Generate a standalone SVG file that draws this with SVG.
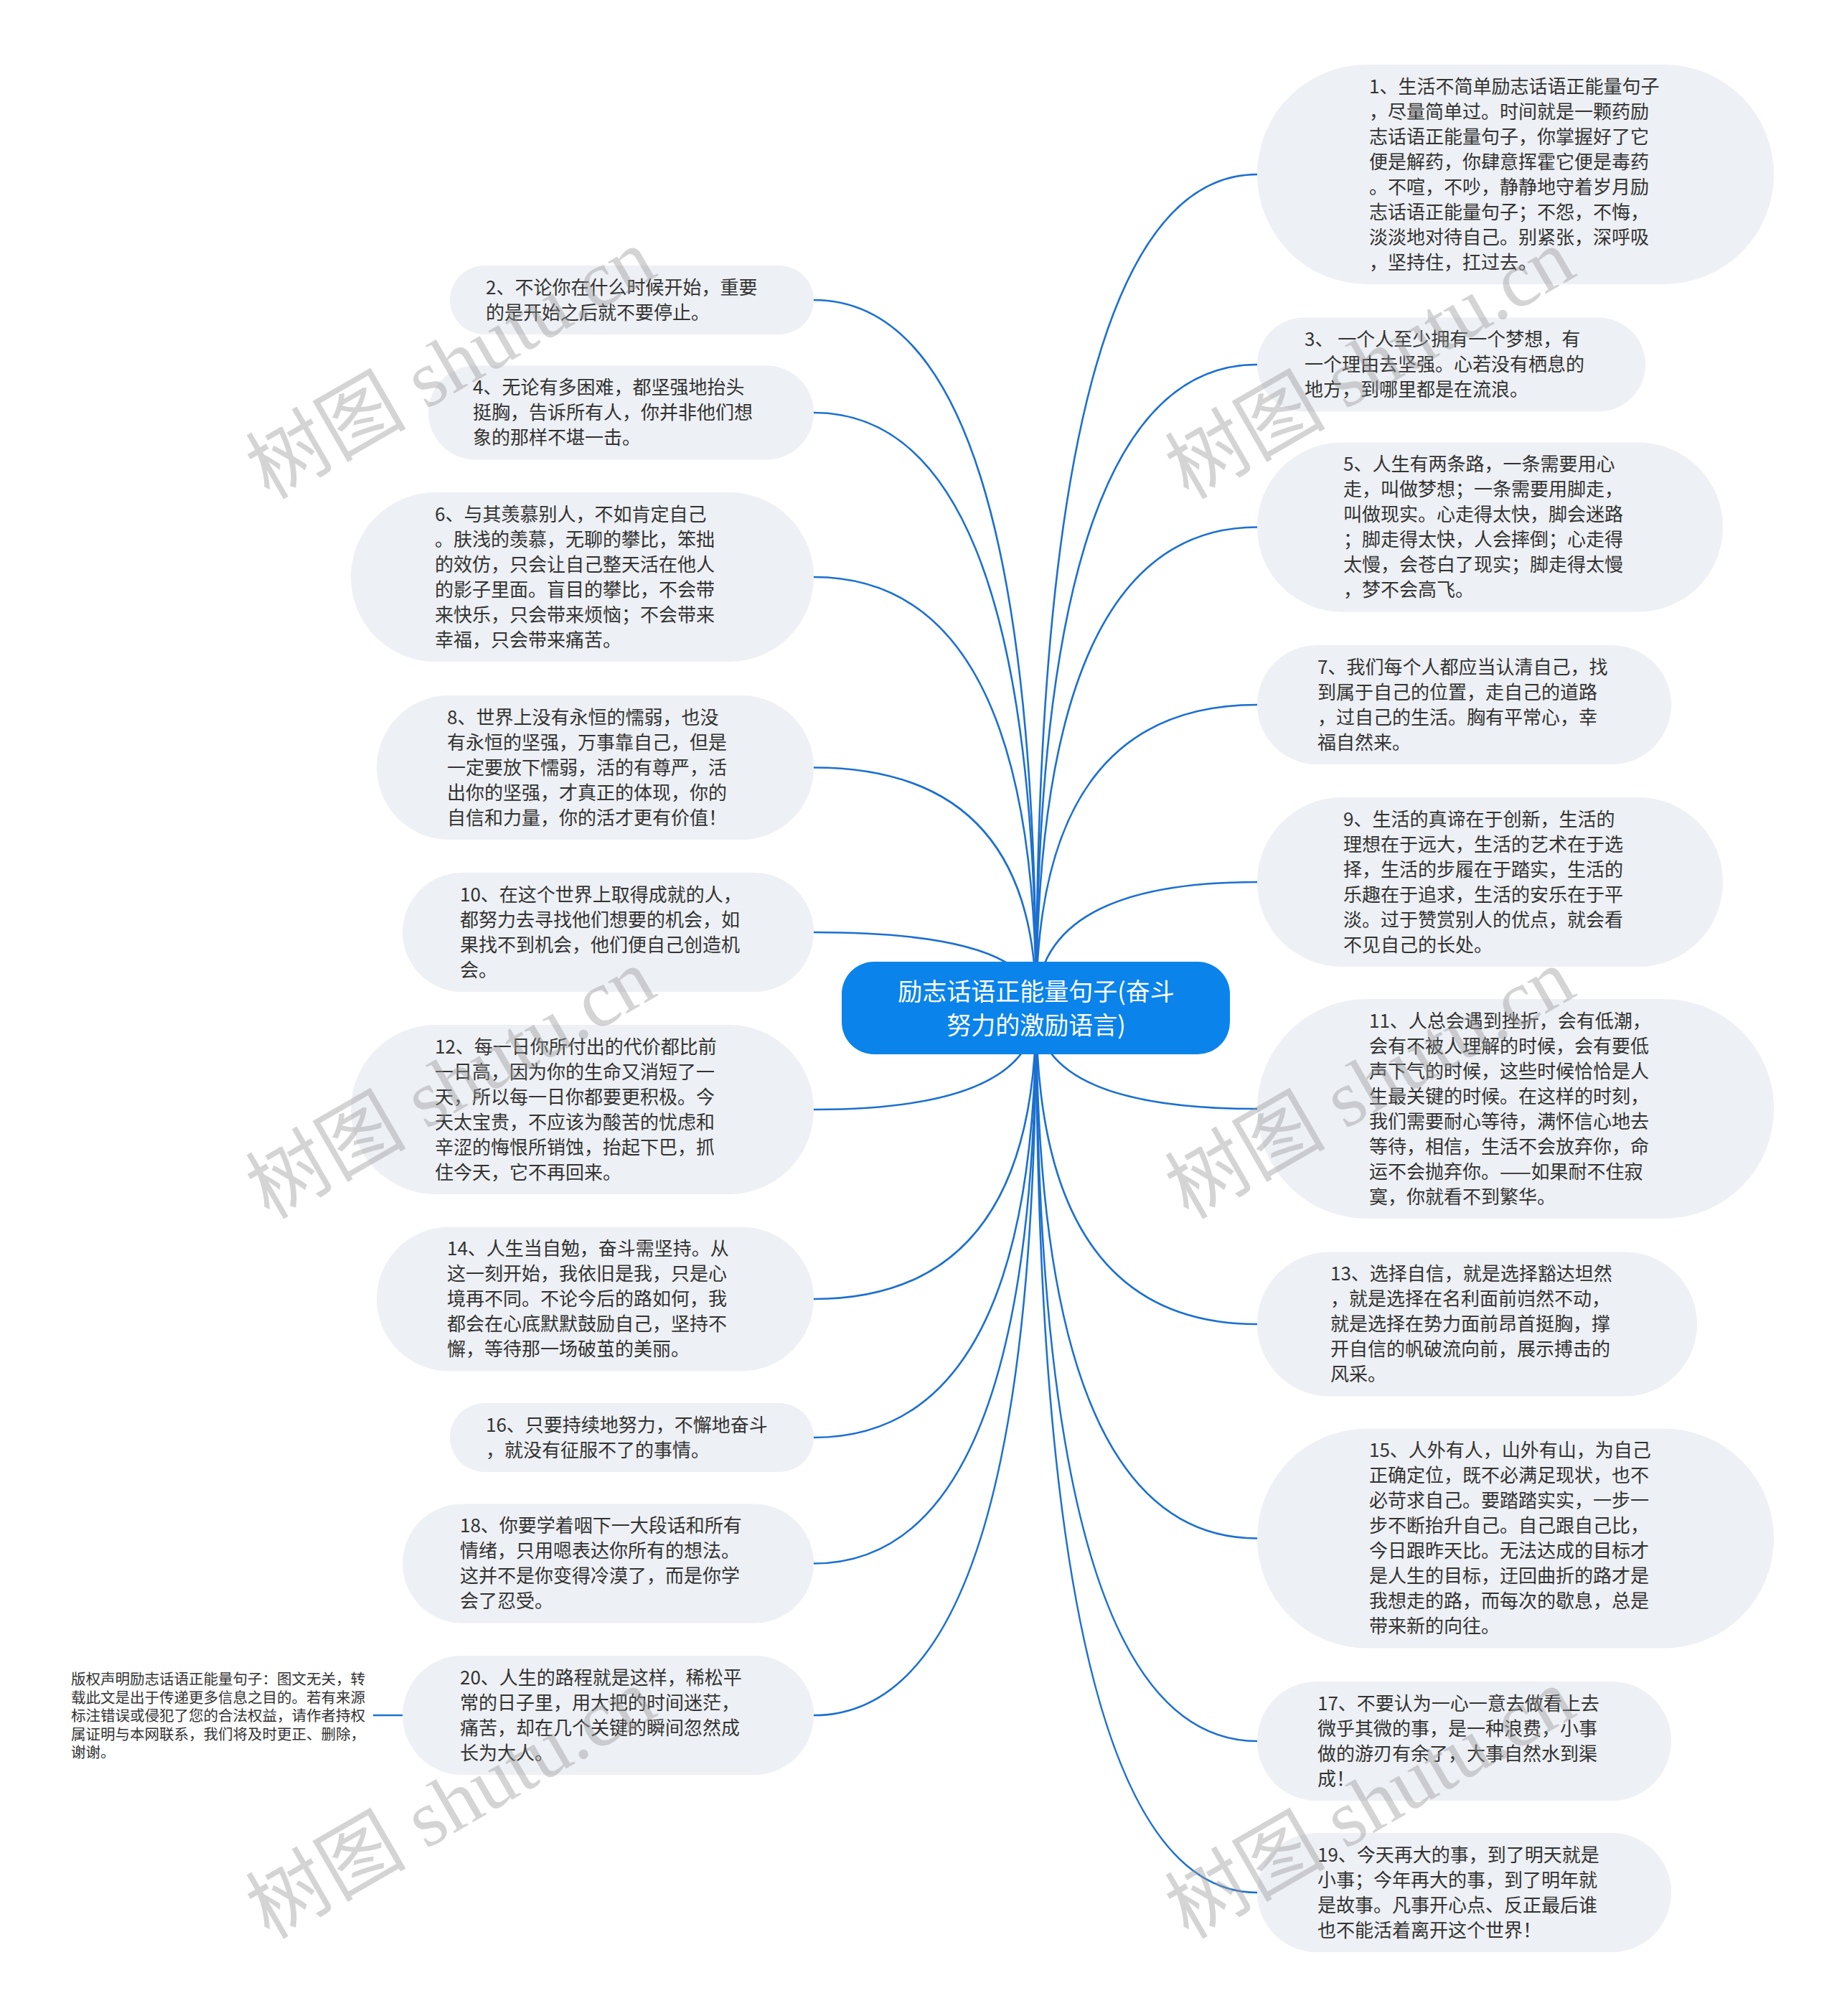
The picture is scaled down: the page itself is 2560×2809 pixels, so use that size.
<svg xmlns="http://www.w3.org/2000/svg" width="2560" height="2809" viewBox="0 0 2560 2809">
<style>
.n{fill:#edf0f4}
.t{font-family:"Noto Sans CJK SC","Noto Sans",sans-serif;font-size:26px;fill:#333333;dominant-baseline:central}
.c{font-family:"Noto Sans CJK SC","Noto Sans",sans-serif;font-size:34px;fill:#ffffff;dominant-baseline:central;text-anchor:middle}
.cp{font-family:"Noto Sans CJK SC","Noto Sans",sans-serif;font-size:20.5px;fill:#333333;dominant-baseline:central}
.e{fill:none;stroke:#1b70d0;stroke-width:2.6}
.wm{font-family:"Liberation Serif","Noto Sans CJK SC",serif;font-size:112px;fill:#9a9a9a;opacity:0.42}
</style>
<rect width="2560" height="2809" fill="#ffffff"/>
<g id="connectors">
<path class="e" d="M1444 1404 Q1444 243 1752 243"/>
<path class="e" d="M1444 1404 Q1444 508 1752 508"/>
<path class="e" d="M1444 1404 Q1444 734.5 1752 734.5"/>
<path class="e" d="M1444 1404 Q1444 982 1752 982"/>
<path class="e" d="M1444 1404 Q1444 1229 1752 1229"/>
<path class="e" d="M1444 1404 Q1444 1545 1752 1545"/>
<path class="e" d="M1444 1404 Q1444 1845 1752 1845"/>
<path class="e" d="M1444 1404 Q1444 2143.5 1752 2143.5"/>
<path class="e" d="M1444 1404 Q1444 2426 1752 2426"/>
<path class="e" d="M1444 1404 Q1444 2637 1752 2637"/>
<path class="e" d="M1444 1404 Q1444 418 1134 418"/>
<path class="e" d="M1444 1404 Q1444 575 1134 575"/>
<path class="e" d="M1444 1404 Q1444 804 1134 804"/>
<path class="e" d="M1444 1404 Q1444 1069.5 1134 1069.5"/>
<path class="e" d="M1444 1404 Q1444 1299 1134 1299"/>
<path class="e" d="M1444 1404 Q1444 1546 1134 1546"/>
<path class="e" d="M1444 1404 Q1444 1810 1134 1810"/>
<path class="e" d="M1444 1404 Q1444 2003 1134 2003"/>
<path class="e" d="M1444 1404 Q1444 2178.5 1134 2178.5"/>
<path class="e" d="M1444 1404 Q1444 2390 1134 2390"/>
<path class="e" d="M520 2390 L561 2390"/>
</g>
<g id="root">
<rect x="1173" y="1340" width="541" height="129" rx="45" fill="#0a83eb"/>
<text class="c" x="1444" y="1379">励志话语正能量句子(奋斗</text>
<text class="c" x="1444" y="1426">努力的激励语言)</text>
</g>
<g id="n1">
<rect class="n" x="1752" y="90" width="720" height="306" rx="153"/>
<text class="t" transform="translate(0,-3)"><tspan x="1908" y="120.5">1、生活不简单励志话语正能量句子</tspan><tspan x="1908" y="155.5">，尽量简单过。时间就是一颗药励</tspan><tspan x="1908" y="190.5">志话语正能量句子，你掌握好了它</tspan><tspan x="1908" y="225.5">便是解药，你肆意挥霍它便是毒药</tspan><tspan x="1908" y="260.5">。不喧，不吵，静静地守着岁月励</tspan><tspan x="1908" y="295.5">志话语正能量句子；不怨，不悔，</tspan><tspan x="1908" y="330.5">淡淡地对待自己。别紧张，深呼吸</tspan><tspan x="1908" y="365.5">，坚持住，扛过去。</tspan></text>
</g>
<g id="n3">
<rect class="n" x="1752" y="442.5" width="541" height="131" rx="65.5"/>
<text class="t" transform="translate(0,-3)"><tspan x="1818" y="473">3、 一个人至少拥有一个梦想，有</tspan><tspan x="1818" y="508">一个理由去坚强。心若没有栖息的</tspan><tspan x="1818" y="543">地方，到哪里都是在流浪。</tspan></text>
</g>
<g id="n5">
<rect class="n" x="1752" y="616.5" width="649" height="236" rx="118"/>
<text class="t" transform="translate(0,-3)"><tspan x="1872" y="647">5、人生有两条路，一条需要用心</tspan><tspan x="1872" y="682">走，叫做梦想；一条需要用脚走，</tspan><tspan x="1872" y="717">叫做现实。心走得太快，脚会迷路</tspan><tspan x="1872" y="752">；脚走得太快，人会摔倒；心走得</tspan><tspan x="1872" y="787">太慢，会苍白了现实；脚走得太慢</tspan><tspan x="1872" y="822">，梦不会高飞。</tspan></text>
</g>
<g id="n7">
<rect class="n" x="1752" y="899" width="577" height="166" rx="83"/>
<text class="t" transform="translate(0,-3)"><tspan x="1836" y="929.5">7、我们每个人都应当认清自己，找</tspan><tspan x="1836" y="964.5">到属于自己的位置，走自己的道路</tspan><tspan x="1836" y="999.5">，过自己的生活。胸有平常心，幸</tspan><tspan x="1836" y="1034.5">福自然来。</tspan></text>
</g>
<g id="n9">
<rect class="n" x="1752" y="1111" width="649" height="236" rx="118"/>
<text class="t" transform="translate(0,-3)"><tspan x="1872" y="1141.5">9、生活的真谛在于创新，生活的</tspan><tspan x="1872" y="1176.5">理想在于远大，生活的艺术在于选</tspan><tspan x="1872" y="1211.5">择，生活的步履在于踏实，生活的</tspan><tspan x="1872" y="1246.5">乐趣在于追求，生活的安乐在于平</tspan><tspan x="1872" y="1281.5">淡。过于赞赏别人的优点，就会看</tspan><tspan x="1872" y="1316.5">不见自己的长处。</tspan></text>
</g>
<g id="n11">
<rect class="n" x="1752" y="1392" width="720" height="306" rx="153"/>
<text class="t" transform="translate(0,-3)"><tspan x="1908" y="1422.5">11、人总会遇到挫折，会有低潮，</tspan><tspan x="1908" y="1457.5">会有不被人理解的时候，会有要低</tspan><tspan x="1908" y="1492.5">声下气的时候，这些时候恰恰是人</tspan><tspan x="1908" y="1527.5">生最关键的时候。在这样的时刻，</tspan><tspan x="1908" y="1562.5">我们需要耐心等待，满怀信心地去</tspan><tspan x="1908" y="1597.5">等待，相信，生活不会放弃你，命</tspan><tspan x="1908" y="1632.5">运不会抛弃你。——如果耐不住寂</tspan><tspan x="1908" y="1667.5">寞，你就看不到繁华。</tspan></text>
</g>
<g id="n13">
<rect class="n" x="1752" y="1744.5" width="613" height="201" rx="100.5"/>
<text class="t" transform="translate(0,-3)"><tspan x="1854" y="1775">13、选择自信，就是选择豁达坦然</tspan><tspan x="1854" y="1810">，就是选择在名利面前岿然不动，</tspan><tspan x="1854" y="1845">就是选择在势力面前昂首挺胸，撑</tspan><tspan x="1854" y="1880">开自信的帆破流向前，展示搏击的</tspan><tspan x="1854" y="1915">风采。</tspan></text>
</g>
<g id="n15">
<rect class="n" x="1752" y="1990.5" width="720" height="306" rx="153"/>
<text class="t" transform="translate(0,-3)"><tspan x="1908" y="2021">15、人外有人，山外有山，为自己</tspan><tspan x="1908" y="2056">正确定位，既不必满足现状，也不</tspan><tspan x="1908" y="2091">必苛求自己。要踏踏实实，一步一</tspan><tspan x="1908" y="2126">步不断抬升自己。自己跟自己比，</tspan><tspan x="1908" y="2161">今日跟昨天比。无法达成的目标才</tspan><tspan x="1908" y="2196">是人生的目标，迂回曲折的路才是</tspan><tspan x="1908" y="2231">我想走的路，而每次的歇息，总是</tspan><tspan x="1908" y="2266">带来新的向往。</tspan></text>
</g>
<g id="n17">
<rect class="n" x="1752" y="2343" width="577" height="166" rx="83"/>
<text class="t" transform="translate(0,-3)"><tspan x="1836" y="2373.5">17、不要认为一心一意去做看上去</tspan><tspan x="1836" y="2408.5">微乎其微的事，是一种浪费，小事</tspan><tspan x="1836" y="2443.5">做的游刃有余了，大事自然水到渠</tspan><tspan x="1836" y="2478.5">成！</tspan></text>
</g>
<g id="n19">
<rect class="n" x="1752" y="2554" width="577" height="166" rx="83"/>
<text class="t" transform="translate(0,-3)"><tspan x="1836" y="2584.5">19、今天再大的事，到了明天就是</tspan><tspan x="1836" y="2619.5">小事；今年再大的事，到了明年就</tspan><tspan x="1836" y="2654.5">是故事。凡事开心点、反正最后谁</tspan><tspan x="1836" y="2689.5">也不能活着离开这个世界！</tspan></text>
</g>
<g id="n2">
<rect class="n" x="627" y="370" width="507" height="96" rx="48"/>
<text class="t" transform="translate(0,-3)"><tspan x="677" y="400.5">2、不论你在什么时候开始，重要</tspan><tspan x="677" y="435.5">的是开始之后就不要停止。</tspan></text>
</g>
<g id="n4">
<rect class="n" x="597" y="509.5" width="537" height="131" rx="65.5"/>
<text class="t" transform="translate(0,-3)"><tspan x="659" y="540">4、无论有多困难，都坚强地抬头</tspan><tspan x="659" y="575">挺胸，告诉所有人，你并非他们想</tspan><tspan x="659" y="610">象的那样不堪一击。</tspan></text>
</g>
<g id="n6">
<rect class="n" x="489" y="686" width="645" height="236" rx="118"/>
<text class="t" transform="translate(0,-3)"><tspan x="606" y="716.5">6、与其羡慕别人，不如肯定自己</tspan><tspan x="606" y="751.5">。肤浅的羡慕，无聊的攀比，笨拙</tspan><tspan x="606" y="786.5">的效仿，只会让自己整天活在他人</tspan><tspan x="606" y="821.5">的影子里面。盲目的攀比，不会带</tspan><tspan x="606" y="856.5">来快乐，只会带来烦恼；不会带来</tspan><tspan x="606" y="891.5">幸福，只会带来痛苦。</tspan></text>
</g>
<g id="n8">
<rect class="n" x="525" y="969" width="609" height="201" rx="100.5"/>
<text class="t" transform="translate(0,-3)"><tspan x="623" y="999.5">8、世界上没有永恒的懦弱，也没</tspan><tspan x="623" y="1034.5">有永恒的坚强，万事靠自己，但是</tspan><tspan x="623" y="1069.5">一定要放下懦弱，活的有尊严，活</tspan><tspan x="623" y="1104.5">出你的坚强，才真正的体现，你的</tspan><tspan x="623" y="1139.5">自信和力量，你的活才更有价值！</tspan></text>
</g>
<g id="n10">
<rect class="n" x="561" y="1216" width="573" height="166" rx="83"/>
<text class="t" transform="translate(0,-3)"><tspan x="641" y="1246.5">10、在这个世界上取得成就的人，</tspan><tspan x="641" y="1281.5">都努力去寻找他们想要的机会，如</tspan><tspan x="641" y="1316.5">果找不到机会，他们便自己创造机</tspan><tspan x="641" y="1351.5">会。</tspan></text>
</g>
<g id="n12">
<rect class="n" x="489" y="1428" width="645" height="236" rx="118"/>
<text class="t" transform="translate(0,-3)"><tspan x="606" y="1458.5">12、每一日你所付出的代价都比前</tspan><tspan x="606" y="1493.5">一日高，因为你的生命又消短了一</tspan><tspan x="606" y="1528.5">天，所以每一日你都要更积极。今</tspan><tspan x="606" y="1563.5">天太宝贵，不应该为酸苦的忧虑和</tspan><tspan x="606" y="1598.5">辛涩的悔恨所销蚀，抬起下巴，抓</tspan><tspan x="606" y="1633.5">住今天，它不再回来。</tspan></text>
</g>
<g id="n14">
<rect class="n" x="525" y="1709.5" width="609" height="201" rx="100.5"/>
<text class="t" transform="translate(0,-3)"><tspan x="623" y="1740">14、人生当自勉，奋斗需坚持。从</tspan><tspan x="623" y="1775">这一刻开始，我依旧是我，只是心</tspan><tspan x="623" y="1810">境再不同。不论今后的路如何，我</tspan><tspan x="623" y="1845">都会在心底默默鼓励自己，坚持不</tspan><tspan x="623" y="1880">懈，等待那一场破茧的美丽。</tspan></text>
</g>
<g id="n16">
<rect class="n" x="627" y="1955" width="507" height="96" rx="48"/>
<text class="t" transform="translate(0,-3)"><tspan x="677" y="1985.5">16、只要持续地努力，不懈地奋斗</tspan><tspan x="677" y="2020.5">，就没有征服不了的事情。</tspan></text>
</g>
<g id="n18">
<rect class="n" x="561" y="2095.5" width="573" height="166" rx="83"/>
<text class="t" transform="translate(0,-3)"><tspan x="641" y="2126">18、你要学着咽下一大段话和所有</tspan><tspan x="641" y="2161">情绪，只用嗯表达你所有的想法。</tspan><tspan x="641" y="2196">这并不是你变得冷漠了，而是你学</tspan><tspan x="641" y="2231">会了忍受。</tspan></text>
</g>
<g id="n20">
<rect class="n" x="561" y="2307" width="573" height="166" rx="83"/>
<text class="t" transform="translate(0,-3)"><tspan x="641" y="2337.5">20、人生的路程就是这样，稀松平</tspan><tspan x="641" y="2372.5">常的日子里，用大把的时间迷茫，</tspan><tspan x="641" y="2407.5">痛苦，却在几个关键的瞬间忽然成</tspan><tspan x="641" y="2442.5">长为大人。</tspan></text>
</g>
<g id="copyright">
<text class="cp" transform="translate(0,-2)"><tspan x="99" y="2340">版权声明励志话语正能量句子：图文无关，转</tspan><tspan x="99" y="2365.5">载此文是出于传递更多信息之目的。若有来源</tspan><tspan x="99" y="2391">标注错误或侵犯了您的合法权益，请作者持权</tspan><tspan x="99" y="2416.5">属证明与本网联系，我们将及时更正、删除，</tspan><tspan x="99" y="2442">谢谢。</tspan></text>
</g>
<g id="watermarks">
<text class="wm" x="375" y="697" transform="rotate(-30 375 697)">树图 shutu.cn</text>
<text class="wm" x="1656" y="697" transform="rotate(-30 1656 697)">树图 shutu.cn</text>
<text class="wm" x="375" y="1700" transform="rotate(-30 375 1700)">树图 shutu.cn</text>
<text class="wm" x="1656" y="1700" transform="rotate(-30 1656 1700)">树图 shutu.cn</text>
<text class="wm" x="375" y="2703" transform="rotate(-30 375 2703)">树图 shutu.cn</text>
<text class="wm" x="1656" y="2703" transform="rotate(-30 1656 2703)">树图 shutu.cn</text>
</g>
</svg>
